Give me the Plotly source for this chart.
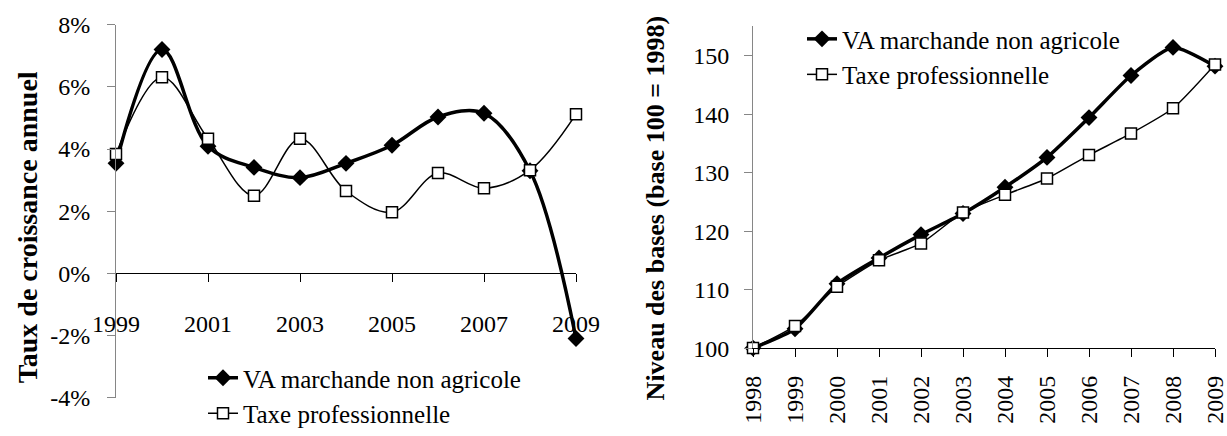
import plotly.graph_objects as go

# ---------------- data ----------------
growth_years = [1999, 2000, 2001, 2002, 2003, 2004, 2005, 2006, 2007, 2008, 2009]
va_growth = [3.54, 7.20, 4.09, 3.41, 3.08, 3.54, 4.12, 5.03, 5.15, 3.30, -2.09]
tp_growth = [3.84, 6.31, 4.33, 2.50, 4.33, 2.65, 1.97, 3.23, 2.74, 3.32, 5.12]

level_years = [1998, 1999, 2000, 2001, 2002, 2003, 2004, 2005, 2006, 2007, 2008, 2009]
va_level = [100.0, 103.3, 111.0, 115.4, 119.4, 123.0, 127.5, 132.6, 139.4, 146.6, 151.4, 148.2]
tp_level = [100.0, 103.8, 110.5, 115.0, 117.9, 123.2, 126.2, 129.0, 133.0, 136.7, 141.0, 148.5]

series_names = ["VA marchande non agricole", "Taxe professionnelle"]
growth_tickvals = [-4, -2, 0, 2, 4, 6, 8]
growth_ticktext = ["-4%", "-2%", "0%", "2%", "4%", "6%", "8%"]
growth_xticks = [1999, 2001, 2003, 2005, 2007, 2009]
level_yticks = [100, 110, 120, 130, 140, 150]

left_title = "Taux de croissance annuel"
right_title = "Niveau des bases (base 100 = 1998)"

# ---------------- layout helpers ----------------
W, H = 1227, 436
def px_x(p):
    return p / W
def px_y(p):
    return (H - p) / H

FONT = "Liberation Serif, Times New Roman, serif"
TICKFONT = dict(family=FONT, size=24, color="black")
AXIS_GREY = "#868686"

fig = go.Figure()

# left chart
fig.add_trace(go.Scatter(
    x=growth_years, y=va_growth, name=series_names[0], mode="lines+markers",
    line=dict(color="black", width=3.5, shape="spline", smoothing=1),
    marker=dict(symbol="diamond", size=13, color="black"),
    cliponaxis=False, xaxis="x", yaxis="y", legend="legend"))
fig.add_trace(go.Scatter(
    x=growth_years, y=tp_growth, name=series_names[1], mode="lines+markers",
    line=dict(color="black", width=1.5, shape="spline", smoothing=1),
    marker=dict(symbol="square", size=11, color="white", line=dict(color="black", width=1.5)),
    cliponaxis=False, xaxis="x", yaxis="y", legend="legend"))

# right chart
fig.add_trace(go.Scatter(
    x=level_years, y=va_level, name=series_names[0], mode="lines+markers",
    line=dict(color="black", width=3.5, shape="spline", smoothing=0.6),
    marker=dict(symbol="diamond", size=13, color="black"),
    cliponaxis=False, xaxis="x2", yaxis="y2", legend="legend2"))
fig.add_trace(go.Scatter(
    x=level_years, y=tp_level, name=series_names[1], mode="lines+markers",
    line=dict(color="black", width=1.5, shape="spline", smoothing=0.6),
    marker=dict(symbol="square", size=11, color="white", line=dict(color="black", width=1.5)),
    cliponaxis=False, xaxis="x2", yaxis="y2", legend="legend2"))

left_x0, left_x1 = 116, 576
left_ytop, left_ybot = 26, 420        # 8% and -4%
zero_px = left_ybot - (left_ybot - left_ytop) * 4 / 12

right_x0, right_x1 = 753, 1215
right_y100 = 367.5
per_unit = (367.5 - 58.7) / 50
right_ytop = right_y100 - 55 * per_unit

fig.update_layout(
    width=W, height=H,
    margin=dict(l=0, r=0, t=0, b=0),
    paper_bgcolor="white", plot_bgcolor="white",
    font=dict(family=FONT, size=24, color="black"),
    xaxis=dict(
        domain=[px_x(left_x0), px_x(left_x1)], range=[1999, 2009],
        anchor="free", position=px_y(zero_px),
        tickvals=growth_xticks, ticks="outside", ticklen=8, tickcolor="black",
        showline=True, linecolor="black", linewidth=1,
        showgrid=False, zeroline=False, tickfont=TICKFONT,
        ticklabelstandoff=21, ticklabeloverflow="allow", automargin=False),
    yaxis=dict(
        domain=[px_y(left_ybot), px_y(left_ytop)], range=[-4, 8],
        anchor="x", tickvals=growth_tickvals, ticktext=growth_ticktext,
        ticks="outside", ticklen=8, tickcolor=AXIS_GREY,
        showline=True, linecolor=AXIS_GREY, linewidth=1,
        showgrid=False, zeroline=False, tickfont=TICKFONT,
        ticklabelstandoff=12, automargin=False),
    xaxis2=dict(
        domain=[px_x(right_x0), px_x(right_x1)], range=[1998, 2009],
        anchor="y2", tickvals=level_years, tickangle=-90,
        ticks="outside", ticklen=8, tickcolor="black",
        showline=True, linecolor="black", linewidth=1,
        showgrid=False, zeroline=False, tickfont=TICKFONT,
        ticklabelstandoff=9, ticklabeloverflow="allow", automargin=False),
    yaxis2=dict(
        domain=[px_y(right_y100), px_y(right_ytop)], range=[100, 155],
        anchor="x2", tickvals=level_yticks,
        ticks="outside", ticklen=8, tickcolor=AXIS_GREY,
        showline=True, linecolor=AXIS_GREY, linewidth=1,
        showgrid=False, zeroline=False, tickfont=TICKFONT,
        ticklabelstandoff=10, automargin=False),
    legend=dict(
        x=px_x(203), y=px_y(375), xanchor="left", yanchor="top",
        bgcolor="rgba(0,0,0,0)", font=dict(family=FONT, size=25, color="black"),
        tracegroupgap=0, itemwidth=30),
    legend2=dict(
        x=px_x(802), y=px_y(17), xanchor="left", yanchor="top",
        bgcolor="rgba(0,0,0,0)", font=dict(family=FONT, size=25, color="black"),
        tracegroupgap=0, itemwidth=30),
    annotations=[
        dict(text="<b>" + left_title + "</b>", x=px_x(27), y=px_y(240),
             xref="paper", yref="paper", textangle=-90, showarrow=False,
             font=dict(family=FONT, size=28, color="black"),
             xanchor="center", yanchor="middle"),
        dict(text="<b>" + right_title + "</b>", x=px_x(655), y=px_y(220),
             xref="paper", yref="paper", textangle=-90, showarrow=False,
             font=dict(family=FONT, size=26, color="black"),
             xanchor="center", yanchor="middle"),
    ],
)

fig.write_html(
    "out.html",
    config={"displayModeBar": False},
    post_script="document.body.style.margin='0';document.body.style.overflow='hidden';",
)
